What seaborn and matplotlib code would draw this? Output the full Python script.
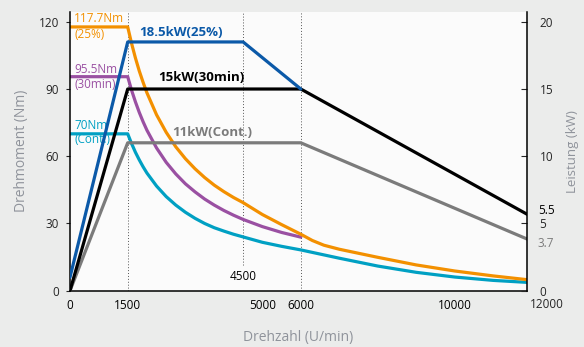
import pandas as pd
import seaborn as sns
import matplotlib.pyplot as plt

# torque curves (Nm) over speed (U/min)
orange_rpm = [0, 1500, 1600, 1700, 1800, 1900, 2000, 2250, 2500, 2750, 3000, 3250, 3500,
              3750, 4000, 4250, 4500, 5000, 5500, 6000, 6300, 6600, 7000, 8000, 9000,
              10000, 11000, 12000]
orange_nm = [117.7, 117.7, 110.4, 103.9, 98.1, 93.0, 88.3, 78.5, 70.7, 64.2, 58.9, 54.4, 50.5,
             47.1, 44.2, 41.6, 39.3, 34.0, 29.5, 25.2, 22.4, 20.3, 18.5, 14.9, 11.5,
             8.8, 6.6, 4.7]

purple_rpm = [0, 1500, 1600, 1700, 1800, 1900, 2000, 2250, 2500, 2750, 3000, 3250, 3500,
              3750, 4000, 4250, 4500, 5000, 5500, 6000]
purple_nm = [95.5, 95.5, 89.5, 84.3, 79.6, 75.4, 71.6, 63.7, 57.3, 52.1, 47.7, 44.1, 40.9,
             38.2, 35.8, 33.7, 31.8, 28.6, 26.0, 23.9]

cyan_rpm = [0, 1500, 1600, 1700, 1800, 1900, 2000, 2250, 2500, 2750, 3000, 3250, 3500,
            3750, 4000, 4250, 4500, 5000, 5500, 6000, 7000, 8000, 9000, 10000, 11000, 12000]
cyan_nm = [70.0, 70.0, 65.7, 61.8, 58.4, 55.3, 52.5, 46.7, 42.0, 38.2, 35.0, 32.3, 30.0,
           28.1, 26.6, 25.2, 24.0, 21.6, 19.8, 18.2, 14.5, 11.0, 8.2, 6.1, 4.6, 3.6]

# power curves (kW)
blue_rpm = [0, 1500, 4500, 6000]
blue_kw = [1.0, 18.5, 18.5, 15.0]
black_rpm = [0, 1500, 6000, 12000]
black_kw = [0.0, 15.0, 15.0, 5.5]
gray_rpm = [0, 1500, 6000, 12000]
gray_kw = [0.0, 11.0, 11.0, 3.7]

guide_rpm = [1500, 4500, 6000]
guide_bottom_nm = [0, 11.5, 0]

xtick_vals = [0, 1500, 3000, 5000, 6000, 10000]
xtick_labels = ["0", "1500", "", "5000", "6000", "10000"]
left_ticks = [0, 30, 60, 90, 120]
right_ticks = [0, 5, 10, 15, 20]

ORANGE = "#f39000"
PURPLE = "#9a50a2"
CYAN = "#00a0c3"
BLUE = "#0b59a8"
GRAY = "#7b7b7b"
LABEL_GRAY = "#8f939b"
BG = "#ebeceb"

sns.set_style("white")
plt.rcParams['font.family'] = ['Open Sans', 'DejaVu Sans']

fig = plt.figure(figsize=(5.84, 3.47), dpi=100, facecolor=BG)
ax = fig.add_axes([70 / 584, 1 - 290.7 / 347, 457 / 584, 279 / 347])
ax.set_facecolor("#fbfbfb")
ax2 = ax.twinx()

# dotted guides
for x, yb in zip(guide_rpm, guide_bottom_nm):
    ax.vlines(x, yb, 130, colors="#555555", linestyles=(0, (1, 2)), linewidth=0.7, zorder=1)

lw = 2.3
kw = dict(sort=False, estimator=None, linewidth=lw, legend=False)
sns.lineplot(x=gray_rpm, y=gray_kw, ax=ax2, color=GRAY, **kw)
sns.lineplot(x=black_rpm, y=black_kw, ax=ax2, color="black", **kw)
sns.lineplot(x=blue_rpm, y=blue_kw, ax=ax2, color=BLUE, **kw)
sns.lineplot(x=cyan_rpm, y=cyan_nm, ax=ax, color=CYAN, **kw)
sns.lineplot(x=purple_rpm, y=purple_nm, ax=ax, color=PURPLE, **kw)
sns.lineplot(x=orange_rpm, y=orange_nm, ax=ax, color=ORANGE, **kw)

ax.set_xlim(0, 11880)
ax.set_ylim(0, 124.5)
ax2.set_ylim(0, 20.75)

# axes styling
for s in ["top", "right"]:
    ax.spines[s].set_visible(False)
for s in ["top", "left", "bottom"]:
    ax2.spines[s].set_visible(False)
for s in ["left", "bottom"]:
    ax.spines[s].set_color("black")
    ax.spines[s].set_linewidth(1.1)
ax2.spines["right"].set_color("black")
ax2.spines["right"].set_linewidth(1.1)

ax.set_xticks(xtick_vals, xtick_labels)
ax.set_xticks(range(1000, 12000, 1000), minor=True)
ax.tick_params(axis="x", which="major", direction="in", length=8, width=0.8, pad=6,
               labelsize=8.5, colors="black")
ax.tick_params(axis="x", which="minor", direction="in", length=4, width=0.8, color="#444444")
for t, v in zip(ax.xaxis.get_major_ticks(), xtick_vals):
    if v in (0, 1500, 5000):
        t.tick1line.set_markersize(0)

ax.set_yticks(left_ticks)
ax.tick_params(axis="y", direction="out", length=3, width=0.8, pad=5, labelsize=8.5)
ax2.set_yticks(right_ticks)
ax2.tick_params(axis="y", direction="in", length=4, width=0.8, pad=9, labelsize=8.5)

ax.set_xlabel("Drehzahl (U/min)", color=LABEL_GRAY, fontsize=10, labelpad=13)
ax.set_ylabel("Drehmoment (Nm)", color=LABEL_GRAY, fontsize=10, labelpad=7)
ax2.set_ylabel("Leistung (kW)", color=LABEL_GRAY, fontsize=9.5, labelpad=9)

# curve labels
tk = dict(fontsize=8.5, va="center", ha="left")
ax.text(104, 121.3, "117.7Nm", color=ORANGE, **tk)
ax.text(104, 114.4, "(25%)", color=ORANGE, **tk)
ax.text(104, 98.8, "95.5Nm", color=PURPLE, **tk)
ax.text(104, 92.1, "(30min)", color=PURPLE, **tk)
ax.text(104, 73.6, "70Nm", color=CYAN, **tk)
ax.text(104, 67.3, "(Cont.)", color=CYAN, **tk)

bk = dict(fontsize=9.5, fontweight="bold", va="center", ha="left")
ax.text(1800, 115.3, "18.5kW(25%)", color=BLUE, **bk)
ax.text(2295, 95.2, "15kW(30min)", color="black", **bk)
ax.text(2670, 70.5, "11kW(Cont.)", color=GRAY, **bk)

ax.text(4500, 6.4, "4500", fontsize=8.5, ha="center", va="center", color="black")
ax2.text(1.024, 5.95, "5.5", transform=ax2.get_yaxis_transform(), fontsize=8.5,
         va="center", ha="left", color="black")
ax2.text(1.024, 3.52, "3.7", transform=ax2.get_yaxis_transform(), fontsize=8.5,
         va="center", ha="left", color=GRAY)
ax.annotate("12000", xy=(1.0, 0), xycoords="axes fraction", xytext=(14.4, -10.2),
            textcoords="offset points", ha="center", va="center", fontsize=8.5)

fig.savefig("out.png", dpi=100, facecolor=BG)
